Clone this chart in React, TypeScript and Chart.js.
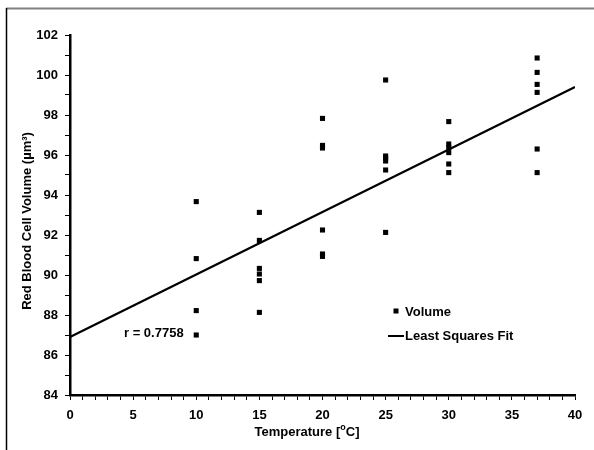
import React, { useEffect, useRef } from "react";
import { Chart, registerables } from "chart.js";

Chart.register(...registerables);

const temperatures = [
  10, 10, 10, 10,
  15, 15, 15, 15, 15, 15,
  20, 20, 20, 20, 20, 20,
  25, 25, 25, 25, 25, 25,
  30, 30, 30, 30, 30, 30,
  37, 37, 37, 37, 37, 37,
];
const volumes = [
  93.67, 90.82, 88.22, 87.0,
  93.13, 91.73, 90.33, 90.05, 89.72, 88.13,
  97.83, 96.48, 96.35, 92.25, 91.05, 90.93,
  99.75, 95.95, 95.85, 95.7, 95.25, 92.13,
  97.67, 96.55, 96.37, 96.12, 95.55, 95.12,
  100.85, 100.13, 99.53, 99.13, 96.3, 95.12,
];
const fitX = [0, 40];
const fitY = [86.9, 99.4];

const xMin = 0, xMax = 40, xMajor = 5;
const yMin = 84, yMax = 102, yMajor = 2;

const legendLabels = ["Volume", "Least Squares Fit"];
const rText = "r = 0.7758";
const xTitleParts = ["Temperature [", "o", "C]"];
const yTitle = "Red Blood Cell Volume (µm³)";

const FAMILY = "'Liberation Sans', Arial, sans-serif";
const FONT = `bold 13px ${FAMILY}`;
const SMALL = `bold 9px ${FAMILY}`;

const overlay = {
  id: "overlay",
  afterDraw(chart: any) {
    const ctx = chart.ctx as CanvasRenderingContext2D;
    ctx.save();
    // frame
    ctx.strokeStyle = "#808080";
    ctx.lineWidth = 2;
    ctx.beginPath();
    ctx.moveTo(6, 8.5);
    ctx.lineTo(594, 8.5);
    ctx.stroke();
    ctx.strokeStyle = "#000";
    ctx.lineWidth = 1.5;
    ctx.beginPath();
    ctx.moveTo(6.5, 8);
    ctx.lineTo(6.5, 450);
    ctx.stroke();

    ctx.fillStyle = "#000";
    ctx.textBaseline = "middle";
    // x title with superscript o
    ctx.font = FONT;
    const w0 = ctx.measureText(xTitleParts[0]).width;
    const w2 = ctx.measureText(xTitleParts[2]).width;
    ctx.font = SMALL;
    const w1 = ctx.measureText(xTitleParts[1]).width;
    const total = w0 + w1 + w2;
    let x = 307 - total / 2;
    ctx.textAlign = "left";
    ctx.font = FONT;
    ctx.fillText(xTitleParts[0], x, 432);
    x += w0;
    ctx.font = SMALL;
    ctx.fillText(xTitleParts[1], x, 428);
    x += w1;
    ctx.font = FONT;
    ctx.fillText(xTitleParts[2], x, 432);

    // y title
    ctx.save();
    ctx.translate(27, 221);
    ctx.rotate(-Math.PI / 2);
    ctx.textAlign = "center";
    ctx.fillText(yTitle, 0, 0);
    ctx.restore();

    // r text
    ctx.textAlign = "left";
    ctx.fillText(rText, 124, 333);

    // legend
    ctx.fillRect(393.5, 308.5, 5, 5);
    ctx.fillText(legendLabels[0], 405, 312);
    ctx.lineWidth = 2;
    ctx.beginPath();
    ctx.moveTo(388, 336);
    ctx.lineTo(404, 336);
    ctx.stroke();
    ctx.fillText(legendLabels[1], 405, 336);
    ctx.restore();
  },
};

export default function App() {
  const ref = useRef<HTMLCanvasElement>(null);
  useEffect(() => {
    if (!ref.current) return;
    const chart = new Chart(ref.current, {
      type: "scatter",
      data: {
        datasets: [
          {
            label: legendLabels[0],
            data: temperatures.map((t, i) => ({ x: t, y: volumes[i] })),
            pointStyle: "rect",
            radius: 3.6,
            backgroundColor: "#000",
            borderColor: "#000",
            borderWidth: 0,
            showLine: false,
          },
          {
            label: legendLabels[1],
            data: fitX.map((t, i) => ({ x: t, y: fitY[i] })),
            showLine: true,
            borderColor: "#000",
            borderWidth: 2.2,
            pointRadius: 0,
            fill: false,
          },
        ],
      },
      options: {
        responsive: false,
        animation: false,
        layout: { padding: { left: 0, top: 35, right: 19, bottom: 0 } },
        plugins: {
          legend: { display: false },
          tooltip: { enabled: false },
          title: { display: false },
        },
        scales: {
          x: {
            type: "linear",
            min: xMin,
            max: xMax,
            afterFit: (s: any) => { s.height = 55; },
            ticks: {
              stepSize: 1,
              autoSkip: false,
              maxRotation: 0,
              color: "#000",
              font: { family: FAMILY, size: 13, weight: "bold" },
              padding: 8,
              callback: (v: any) => (Number(v) % xMajor === 0 ? String(v) : ""),
            },
            grid: {
              drawOnChartArea: false,
              drawTicks: true,
              tickLength: 5,
              color: "#000",
              lineWidth: 1,
            },
            border: { display: true, color: "#000", width: 2.5 },
          },
          y: {
            type: "linear",
            min: yMin,
            max: yMax,
            afterFit: (s: any) => { s.width = 70; },
            ticks: {
              stepSize: 1,
              autoSkip: false,
              color: "#000",
              font: { family: FAMILY, size: 13, weight: "bold" },
              padding: 7,
              callback: (v: any) => (Number(v) % yMajor === 0 ? String(v) : ""),
            },
            grid: {
              drawOnChartArea: false,
              drawTicks: true,
              tickLength: 5,
              color: "#000",
              lineWidth: 1,
            },
            border: { display: true, color: "#000", width: 2.5 },
          },
        },
      },
      plugins: [overlay],
    });
    return () => chart.destroy();
  }, []);
  return (
    <div style={{ position: "absolute", left: 0, top: 0, width: 594, height: 450, background: "#fff" }}>
      <canvas ref={ref} width={594} height={450} style={{ width: 594, height: 450, display: "block" }} />
    </div>
  );
}
